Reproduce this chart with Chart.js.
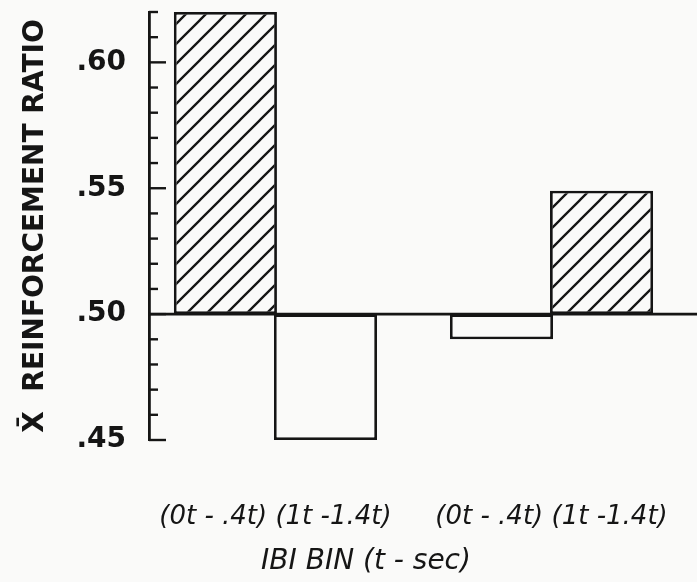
<!DOCTYPE html>
<html>
<head>
<meta charset="utf-8">
<script src="https://cdn.jsdelivr.net/npm/chart.js@4.4.1/dist/chart.umd.min.js"></script>
<style>
  html, body { margin: 0; padding: 0; background: #fafaf9; }
  #wrap { width: 697px; height: 582px; }
</style>
</head>
<body>
<div id="wrap"><canvas id="ratioChart" width="697" height="582"></canvas></div>
<script>
// values
const groupLabels = ['(0t - .4t) (1t -1.4t)', '(0t - .4t) (1t -1.4t)'];
const earlyBin = [0.62, 0.49];   // (0t - .4t) bar in each group
const lateBin = [0.45, 0.549];   // (1t -1.4t) bar in each group
const baseline = 0.50;
const xTitle = 'IBI BIN (t - sec)';
const yTitle = 'X\u0304  REINFORCEMENT RATIO';

const ink = '#151515';
const paper = '#fafaf9';
const clear = 'rgba(0,0,0,0)';

const canvas = document.getElementById('ratioChart');
const ctx = canvas.getContext('2d');

// diagonal hatch for bars above the baseline
function makeHatch() {
    const size = 20;
    const c = document.createElement('canvas');
    c.width = size;
    c.height = size;
    const g = c.getContext('2d');
    g.fillStyle = paper;
    g.fillRect(0, 0, size, size);
    g.strokeStyle = ink;
    g.lineWidth = 2.3;
    g.beginPath();
    g.moveTo(0, size); g.lineTo(size, 0);
    g.moveTo(-size / 2, size / 2); g.lineTo(size / 2, -size / 2);
    g.moveTo(size / 2, size * 1.5); g.lineTo(size * 1.5, size / 2);
    g.stroke();
    return ctx.createPattern(c, 'repeat');
}
const hatch = makeHatch();

function toPoints(values) {
    return values.map((v, i) => ({ x: i, y: [baseline, v] }));
}

// baseline, inward tick marks and the x title
const axisMarks = {
    id: 'axisMarks',
    afterDatasetsDraw(chart) {
        const { ctx, chartArea, scales: { y } } = chart;
        ctx.save();
        ctx.strokeStyle = ink;
        ctx.lineWidth = 2.8;
        const yb = y.getPixelForValue(baseline);
        ctx.beginPath();
        ctx.moveTo(chartArea.left, yb);
        ctx.lineTo(chart.width, yb);
        ctx.stroke();

        ctx.lineWidth = 2.4;
        for (let k = 45; k <= 62; k++) {
            const py = y.getPixelForValue(k / 100);
            const len = k % 5 === 0 ? 17 : 9;
            ctx.beginPath();
            ctx.moveTo(chartArea.left, py);
            ctx.lineTo(chartArea.left + len, py);
            ctx.stroke();
        }

        ctx.fillStyle = ink;
        ctx.font = 'italic 28px "DejaVu Sans"';
        ctx.textAlign = 'center';
        ctx.textBaseline = 'middle';
        ctx.fillText(xTitle, 366, 562);
        ctx.restore();
    }
};

const barStyle = {
    backgroundColor: c => (c.raw && c.raw.y[1] > baseline ? hatch : paper),
    borderColor: ink,
    borderWidth: 2.8,
    borderSkipped: false,
    categoryPercentage: 0.725,
    barPercentage: 1.03
};

const config = {
    type: 'bar',
    data: {
        datasets: [
            Object.assign({ label: '(0t - .4t)', data: toPoints(earlyBin) }, barStyle),
            Object.assign({ label: '(1t -1.4t)', data: toPoints(lateBin) }, barStyle)
        ]
    },
    options: {
        responsive: false,
        animation: false,
        devicePixelRatio: 1,
        layout: { padding: { top: 12, left: 0, right: 0, bottom: 0 } },
        plugins: {
            legend: { display: false },
            tooltip: { enabled: false }
        },
        scales: {
            x: {
                type: 'linear',
                offset: false,
                min: -0.458,
                max: 1.527,
                grid: {
                    display: true,
                    drawOnChartArea: false,
                    drawTicks: true,
                    tickLength: 60,
                    tickColor: clear,
                    offset: false
                },
                border: { display: false },
                afterBuildTicks: s => { s.ticks = groupLabels.map((_, i) => ({ value: i })); },
                ticks: {
                    autoSkip: false,
                    maxRotation: 0,
                    padding: 2,
                    color: ink,
                    font: { family: 'DejaVu Sans', size: 26, style: 'italic' },
                    callback: v => groupLabels[v]
                },
                afterFit: s => { s.height = 142; }
            },
            y: {
                min: 0.45,
                max: 0.62,
                grid: {
                    display: true,
                    drawOnChartArea: false,
                    drawTicks: true,
                    tickLength: 21,
                    tickColor: clear
                },
                border: { display: true, color: ink, width: 2.8 },
                ticks: {
                    stepSize: 0.05,
                    includeBounds: false,
                    padding: 2,
                    color: ink,
                    font: { family: 'DejaVu Sans', size: 28, weight: 'bold', lineHeight: 0.5 },
                    callback: v => v.toFixed(2).replace(/^0/, '')
                },
                title: {
                    display: true,
                    text: yTitle,
                    color: ink,
                    font: { family: 'DejaVu Sans', size: 28, weight: 'bold', lineHeight: 1 },
                    padding: { top: 22, bottom: 0 }
                },
                afterFit: s => { s.width = 149; }
            }
        }
    },
    plugins: [axisMarks]
};

new Chart(ctx, config);
</script>
</body>
</html>
